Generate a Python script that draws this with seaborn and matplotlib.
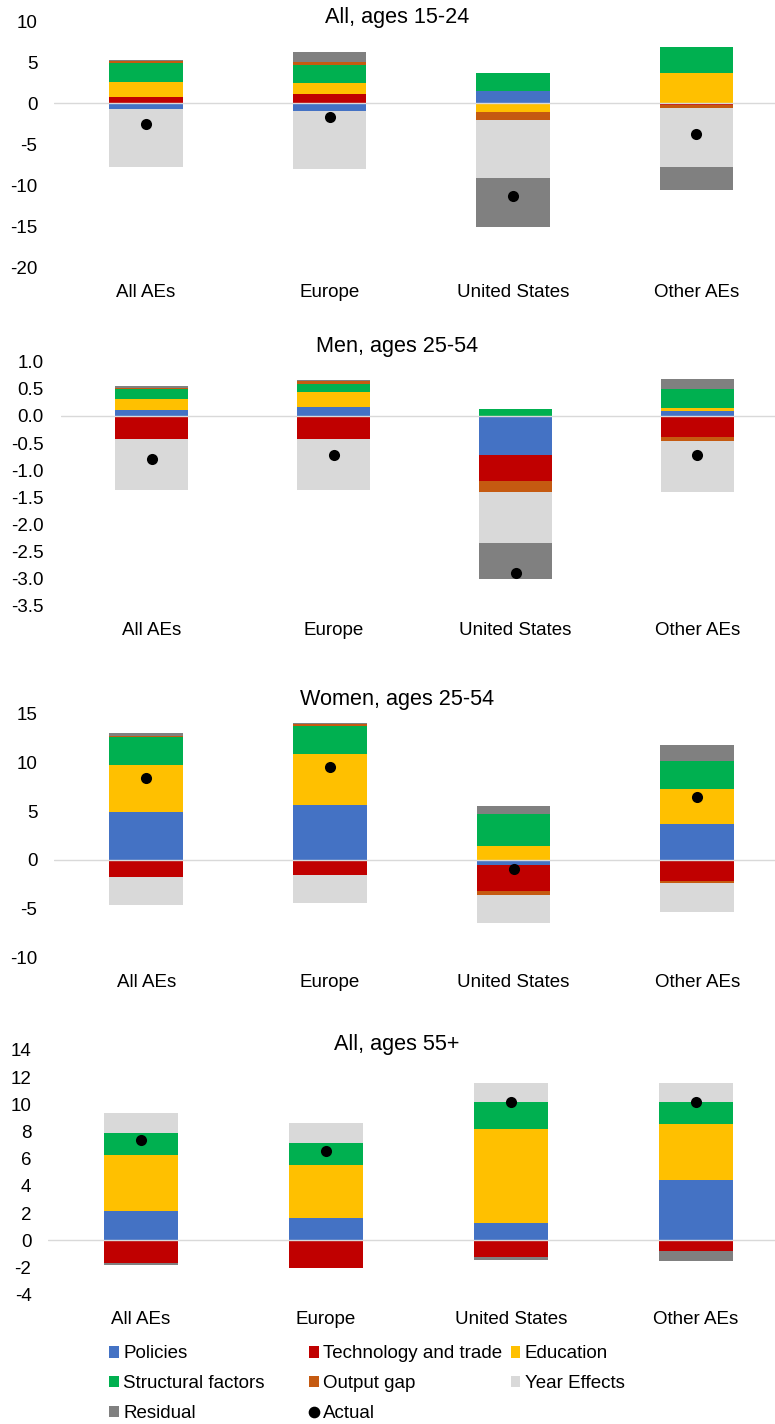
import numpy as np
import pandas as pd
import matplotlib
matplotlib.use("Agg")
import matplotlib.pyplot as plt
from matplotlib.patches import Patch
from matplotlib.lines import Line2D
import seaborn as sns

# ---------------------------------------------------------------- data
regions = ["All AEs", "Europe", "United States", "Other AEs"]
components = ["Policies", "Technology and trade", "Education",
              "Structural factors", "Output gap", "Year Effects", "Residual"]
colors = ["#4472C4", "#C00000", "#FFC000", "#00B050",
          "#C55A11", "#D9D9D9", "#808080"]

# contributions: rows follow `components`, columns follow `regions`
youth_parts = [
    [-0.65, -0.90, 1.45, 0.00],
    [0.80, 1.10, 0.00, -0.25],
    [1.75, 1.40, -1.10, 3.70],
    [2.40, 2.20, 2.25, 3.10],
    [0.15, 0.30, -0.90, -0.35],
    [-7.05, -7.10, -7.10, -7.10],
    [0.15, 1.25, -5.90, -2.90],
]
youth_actual = [-2.5, -1.65, -11.25, -3.7]

men_parts = [
    [0.11, 0.17, -0.71, 0.10],
    [-0.42, -0.42, -0.49, -0.38],
    [0.20, 0.27, 0.00, 0.05],
    [0.19, 0.15, 0.13, 0.35],
    [0.02, 0.06, -0.20, -0.08],
    [-0.94, -0.94, -0.94, -0.94],
    [0.03, 0.02, -0.66, 0.19],
]
men_actual = [-0.80, -0.71, -2.89, -0.71]

women_parts = [
    [4.90, 5.60, -0.50, 3.70],
    [-1.70, -1.50, -2.65, -2.15],
    [4.80, 5.25, 1.40, 3.55],
    [2.85, 2.90, 3.30, 2.85],
    [0.10, 0.12, -0.40, -0.20],
    [-2.95, -2.90, -2.95, -2.95],
    [0.35, 0.10, 0.85, 1.65],
]
women_actual = [8.4, 9.5, -0.95, 6.4]

older_parts = [
    [2.15, 1.65, 1.25, 4.45],
    [-1.70, -2.00, -1.20, -0.78],
    [4.10, 3.90, 6.95, 4.10],
    [1.65, 1.60, 1.95, 1.65],
    [0.00, 0.00, 0.00, 0.00],
    [1.45, 1.45, 1.40, 1.40],
    [-0.15, 0.00, -0.22, -0.72],
]
older_actual = [7.4, 6.55, 10.15, 10.15]

panel_titles = ["All, ages 15-24", "Men, ages 25-54",
                "Women, ages 25-54", "All, ages 55+"]
youth_ticks = [-20, -15, -10, -5, 0, 5, 10]
men_ticks = [-3.5, -3.0, -2.5, -2.0, -1.5, -1.0, -0.5, 0.0, 0.5, 1.0]
women_ticks = [-10, -5, 0, 5, 10, 15]
older_ticks = [-4, -2, 0, 2, 4, 6, 8, 10, 12, 14]

# ---------------------------------------------------------------- style
sns.set_theme(style="white")
plt.rcParams["font.family"] = ["Liberation Sans", "DejaVu Sans"]
plt.rcParams["axes.unicode_minus"] = False
plt.rcParams["text.color"] = "black"

W, H = 775, 1424
fig = plt.figure(figsize=(W / 100, H / 100), dpi=100)
FS = 13.5


def draw_panel(box, parts, actual, ticks, fmt, title, title_y):
    left, right, top, bottom = box
    ax = fig.add_axes([left / W, 1 - bottom / H, (right - left) / W, (bottom - top) / H])
    table = pd.DataFrame(parts, index=components, columns=regions)

    pos_base = np.zeros(len(regions))
    neg_base = np.zeros(len(regions))
    for comp, col in zip(components, colors):
        vals = table.loc[comp].to_numpy(dtype=float)
        base = np.where(vals >= 0, pos_base, neg_base)
        seg = pd.DataFrame({"region": regions, "value": vals})
        sns.barplot(data=seg, x="region", y="value", order=regions,
                    bottom=base, color=col, saturation=1, width=0.4,
                    linewidth=0, errorbar=None, zorder=2, ax=ax)
        pos_base += np.clip(vals, 0, None)
        neg_base += np.clip(vals, None, 0)

    ax.axhline(0, color="#D9D9D9", lw=1.0, zorder=3)
    sns.stripplot(x=regions, y=actual, order=regions, jitter=False,
                  color="black", size=8, linewidth=0, zorder=4, ax=ax)

    ax.set_xlim(-0.5, 3.5)
    ax.set_ylim(ticks[0], ticks[-1])
    ax.set_yticks(ticks)
    ax.set_yticklabels([fmt.format(t) for t in ticks])
    ax.set_xlabel("")
    ax.set_ylabel("")
    ax.tick_params(axis="both", length=0, labelsize=FS, colors="black")
    ax.tick_params(axis="y", pad=12.2)
    ax.tick_params(axis="x", pad=11.6)
    for sp in ax.spines.values():
        sp.set_visible(False)
    ax.set_facecolor("none")
    fig.text(397 / W, 1 - title_y / H, title, ha="center", va="center",
             fontsize=15.6, color="black")
    return ax


draw_panel((54.4, 788, 21.1, 267.7), youth_parts, youth_actual,
           youth_ticks, "{:.0f}", panel_titles[0], 17.5)
draw_panel((60.5, 788.5, 361.7, 606), men_parts, men_actual,
           men_ticks, "{:.1f}", panel_titles[1], 346.5)
draw_panel((54.4, 789, 713.3, 957.7), women_parts, women_actual,
           women_ticks, "{:.0f}", panel_titles[2], 699.5)
draw_panel((48.4, 788.4, 1050, 1294.7), older_parts, older_actual,
           older_ticks, "{:.0f}", panel_titles[3], 1044.5)

# ---------------------------------------------------------------- legend
patches = [Patch(facecolor=c, edgecolor="none", label=n)
           for n, c in zip(components, colors)]
actual_handle = Line2D([0], [0], marker="o", color="black", linestyle="none",
                       markersize=7.4, label="Actual")
legend_columns = [
    (109.3, [patches[0], patches[3], patches[6]]),
    (309.0, [patches[1], patches[4], actual_handle]),
    (510.6, [patches[2], patches[5]]),
]
for x_px, handles in legend_columns:
    fig.legend(handles=handles, loc="upper left",
               bbox_to_anchor=(x_px / W, 1 - 1345.5 / H),
               frameon=False, borderpad=0, borderaxespad=0,
               handlelength=0.52, handleheight=0.575, handletextpad=0.23,
               labelspacing=0.68, fontsize=FS)

fig.savefig("out.png", dpi=100)
